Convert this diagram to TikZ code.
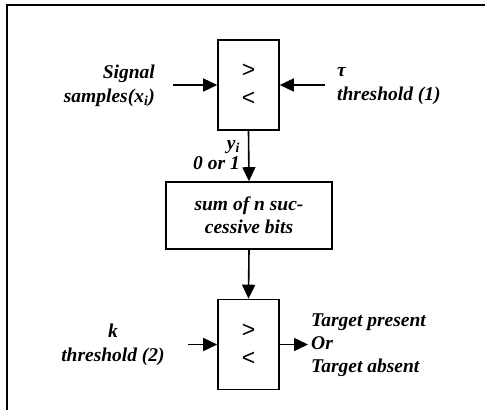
\documentclass[tikz,border=0pt]{standalone}
\usepackage{fontspec}
\setmainfont{Liberation Serif}
\setsansfont{Liberation Sans}
\usetikzlibrary{arrows.meta,positioning}

\begin{document}
\begin{tikzpicture}[x=1pt,y=-1pt,>={Triangle[length=14pt,width=13pt]},
  cmpbox/.style={draw,line width=1.6pt,minimum width=61pt,minimum height=90pt,
    align=center,font=\sffamily\fontsize{23}{28}\selectfont},
  sumbox/.style={draw,line width=1.6pt,minimum width=166pt,minimum height=67pt,
    align=center,font=\bfseries\itshape\fontsize{19.5}{23}\selectfont},
  lbl/.style={inner sep=0pt,font=\bfseries\itshape\fontsize{19.5}{24}\selectfont},
  flow/.style={->,line width=1.6pt}]
  \useasboundingbox (0,0) rectangle (485,410);
  %% frame
  \draw[line width=1.4pt] (7,410) -- (7,5) -- (485,5);
  %% blocks
  \node[cmpbox] (cmpA) at (248.5,85) {\textgreater\\\textless};
  \node[sumbox] (sumbits) at (249,215.5) {sum of n suc-\\cessive bits};
  \node[cmpbox] (cmpB) at (248.5,344.5) {\textgreater\\\textless};
  %% labels
  \node[lbl,anchor=east,align=right] (sig) at (155,86) {Signal\\samples(x\textsubscript{i})};
  \node[lbl,anchor=west,align=left] (thrA) at (337,86) {τ\\threshold (1)};
  \node[lbl,anchor=east,align=right,font=\bfseries\itshape\fontsize{19.5}{20}\selectfont]
    (yi) at (240,155) {y\textsubscript{i}\\0 or 1};
  \node[lbl,align=center] (thrB) at (113,345) {k\\threshold (2)};
  \node[lbl,anchor=west,align=left,font=\bfseries\itshape\fontsize{19.5}{23}\selectfont]
    (decide) at (311,345) {Target present\\Or\\Target absent};
  %% connectors
  \coordinate (sigin) at (173,85);
  \coordinate (thrin) at (325,85);
  \coordinate (kin) at (188,344.5);
  \coordinate (out) at (308,344.5);
  \draw[flow] (sigin) -- (cmpA.west);
  \draw[flow] (thrin) -- (cmpA.east);
  \draw[flow] (cmpA.south) -- (sumbits.north);
  \draw[flow] (sumbits.south) -- (cmpB.north);
  \draw[flow] (kin) -- (cmpB.west);
  \draw[flow] (cmpB.east) -- (out);
\end{tikzpicture}
\end{document}
